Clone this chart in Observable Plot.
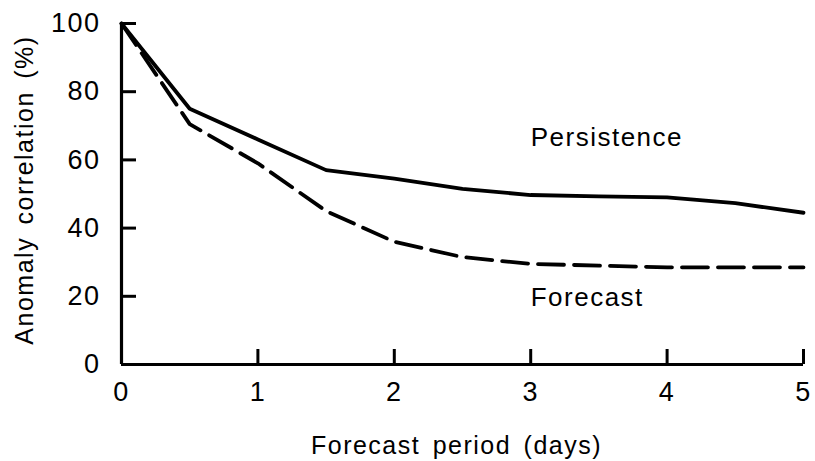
<!DOCTYPE html>
<html><head><meta charset="utf-8">
<script src="https://cdn.jsdelivr.net/npm/d3@7"></script>
<script src="https://cdn.jsdelivr.net/npm/@observablehq/plot@0.6"></script>
<style>body{margin:0;background:#fff}</style>
</head><body><div id="chart"></div>
<script>
const persistenceDays = [0, 0.5, 1, 1.5, 2, 2.5, 3, 3.5, 4, 4.5, 5];
const persistenceValues = [100, 75, 66, 57, 54.5, 51.5, 49.7, 49.3, 49, 47.3, 44.5];
const forecastDays = [0, 0.5, 1, 1.5, 2, 2.5, 3, 3.5, 4, 4.5, 5];
const forecastValues = [100, 70.5, 59, 45, 36, 31.5, 29.5, 29, 28.5, 28.5, 28.5];
const xTicks = [0, 1, 2, 3, 4, 5];
const yTicks = [0, 20, 40, 60, 80, 100];
const seriesLabels = [{x: 3, y: 66.6, text: "Persistence"}, {x: 3, y: 19.6, text: "Forecast"}];

const persistence = persistenceDays.map((d, i) => ({x: d, y: persistenceValues[i]}));
const forecast = forecastDays.map((d, i) => ({x: d, y: forecastValues[i]}));

const font = "'Liberation Sans', Arial, Helvetica, sans-serif";
const chart = Plot.plot({
  width: 815, height: 461,
  marginLeft: 121, marginRight: 12, marginTop: 23, marginBottom: 97,
  style: {fontFamily: font, fontSize: "25px", color: "#000", background: "#fff"},
  x: {domain: [0, 5]},
  y: {domain: [0, 100]},
  marks: [
    Plot.axisY({ticks: yTicks, tickSize: 0, tickPadding: 21, label: null, tickFormat: d => String(d), fontSize: 27}),
    Plot.axisX({ticks: xTicks, tickSize: 0, tickPadding: 17, label: null, tickFormat: d => String(d), fontSize: 27}),
    Plot.ruleX([0], {y1: 0, y2: 100, stroke: "#000", strokeWidth: 3.2}),
    Plot.ruleY([0], {x1: 0, x2: 5, stroke: "#000", strokeWidth: 3.2}),
    Plot.ruleY(yTicks.filter(v => v > 0), {x1: 0, x2: 0.11, stroke: "#000", strokeWidth: 3}),
    Plot.ruleX(xTicks.filter(v => v > 0), {y1: 0, y2: 4.4, stroke: "#000", strokeWidth: 3}),
    Plot.line(persistence, {x: "x", y: "y", stroke: "#000", strokeWidth: 3.8}),
    Plot.line(forecast, {x: "x", y: "y", stroke: "#000", strokeWidth: 3.8, strokeDasharray: "26,10"}),
    Plot.text(seriesLabels, {x: "x", y: "y", text: "text", textAnchor: "start", fontSize: 26, fill: "#000"}),
    Plot.text(["Forecast period (days)"], {frameAnchor: "bottom", textAnchor: "middle", lineAnchor: "middle", dy: 81, dx: -6, fontSize: 25, fill: "#000"}),
    Plot.text(["Anomaly correlation (%)"], {frameAnchor: "left", textAnchor: "middle", lineAnchor: "middle", dx: -97, dy: -4, rotate: -90, fontSize: 25, fill: "#000"})
  ]
});
chart.querySelectorAll("g[aria-label$='tick label']").forEach(g => {
  g.setAttribute("font-size", "27");
  g.querySelectorAll("text").forEach(t => t.setAttribute("font-size", "27"));
});
chart.querySelectorAll("text").forEach(t => { t.style.letterSpacing = "1.5px"; t.style.wordSpacing = "4px"; });
document.getElementById("chart").appendChild(chart);
</script>
</body></html>
